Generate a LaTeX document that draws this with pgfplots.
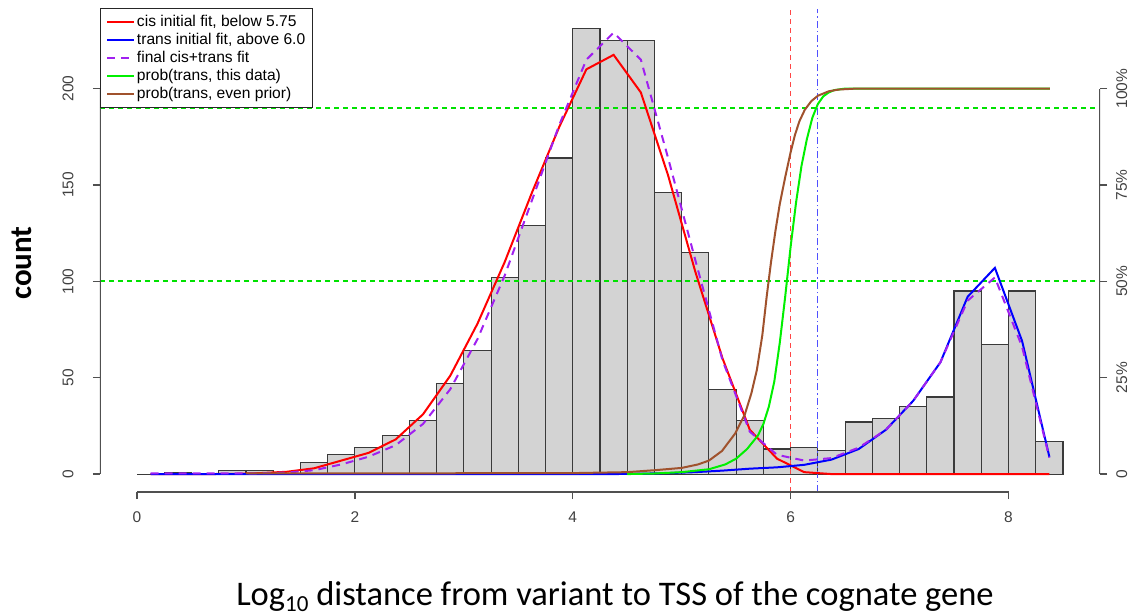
\documentclass[border=0pt]{standalone}
\usepackage{fontspec}
\setmainfont{Liberation Sans}
\newfontfamily\carlito{Carlito}
\usepackage{pgfplots}
\pgfplotsset{compat=1.18}
\definecolor{histfill}{HTML}{D3D3D3}
\definecolor{histedge}{HTML}{3A3A3A}
\definecolor{rpurple}{HTML}{A020F0}
\definecolor{rgreen}{HTML}{00F000}
\definecolor{rsienna}{HTML}{A0522D}
\definecolor{axgray}{HTML}{505050}
\definecolor{hlgreen}{RGB}{0,225,0}
\definecolor{vlred}{RGB}{255,70,70}
\definecolor{vlblue}{RGB}{80,80,255}

\pgfplotstableread{
x y
0.00 0
0.25 1
0.50 0
0.75 2
1.00 2
1.25 0
1.50 6
1.75 10
2.00 14
2.25 20
2.50 28
2.75 47
3.00 64
3.25 102
3.50 129
3.75 164
4.00 231
4.25 225
4.50 225
4.75 146
5.00 115
5.25 44
5.50 28
5.75 13
6.00 14
6.25 12
6.50 27
6.75 29
7.00 35
7.25 40
7.50 95
7.75 67
8.00 95
8.25 17
8.50 0
}\histdata

\pgfplotstableread{
x cis trans final
0.125 0 0 0.3
0.375 0 0 0.3
0.625 0 0 0.3
0.875 0.1 0 0.3
1.125 0.5 0 0.4
1.375 1.2 0 0.8
1.625 3 0 2
1.875 7 0 5
2.125 11 0 9
2.375 18 0 15
2.625 31 0 26
2.875 51 0 44
3.125 78 0 70
3.375 110 0 103
3.625 146 0 142
3.875 180 0 181
4.125 210 0 215
4.375 217.5 0 229
4.625 198 0.2 215
4.875 155 0.5 164
5.125 105 1 111
5.375 60 1.8 59
5.625 23 2.8 22
5.875 8 3.5 10
6.125 1 4.8 7
6.375 0 7.5 8.3
6.625 0 13 13.7
6.875 0 23 23
7.125 0 38 38
7.375 0 58 58
7.625 0 92 90
7.875 0 107 102
8.125 0 69 66
8.375 0 9 8.5
}\fitdata

\pgfplotstableread{
x p
4.50 0
4.75 0.3
5.00 1
5.25 2.5
5.40 5
5.50 8
5.60 13
5.70 20
5.75 26
5.80 35
5.85 48
5.90 68
5.95 92
6.00 118
6.05 141
6.10 160
6.15 174
6.20 185
6.25 192
6.30 196
6.35 198
6.40 199.2
6.50 200
8.38 200
}\probdata

\pgfplotstableread{
x p
1.00 0.3
4.00 0.5
4.50 1
4.75 2
5.00 3.2
5.15 5
5.25 7
5.37 12
5.49 21
5.58 31
5.64 42
5.69 54
5.74 72
5.78 92
5.82 110
5.86 126
5.90 140
5.95 154
6.00 167
6.04 176
6.08 183
6.13 189
6.19 193.5
6.25 196.3
6.35 198.6
6.44 199.5
6.60 200
8.38 200
}\evendata

\begin{document}
\begin{tikzpicture}
\path[use as bounding box] (-100pt,-124pt) rectangle (1036pt,492pt);
\begin{axis}[
  scale only axis, width=1000pt, height=483pt,
  xmin=-0.34, xmax=8.84, ymin=-9.3, ymax=241.3,
  axis lines=left, axis line style={draw=none},
  tick align=outside, major tick length=7pt,
  tick style={axgray, line width=1.2pt},
  xtick={0,2,4,6,8}, ytick={0,50,100,150,200},
  /pgf/number format/assume math mode=true,
  ticklabel style={font=\fontsize{15.5}{15.5}\selectfont, text=black!75},
  xticklabel shift=9pt,
  yticklabel style={xshift=-16pt, rotate=90, anchor=south},
  xlabel={\carlito Log\raisebox{-0.35ex}{\fontsize{23}{23}\selectfont 10} distance from variant to TSS of the cognate gene},
  xlabel style={at={(axis description cs:0.515,-0.217)}, anchor=center, font=\fontsize{34.5}{34.5}\selectfont},
  ylabel={\carlito\bfseries count},
  ylabel style={at={(axis description cs:-0.078,0.474)}, anchor=center, rotate=0, font=\fontsize{31}{31}\selectfont},
  legend style={at={(axis description cs:0,1.002)}, anchor=north west, draw=black!85, line width=1pt,
    font=\fontsize{15.6}{17}\selectfont, inner xsep=6pt, inner ysep=4.5pt,
    nodes={inner sep=1.5pt, text height=11.5pt, text depth=3.5pt}, row sep=0pt},
  legend cell align=left,
  legend image code/.code={\draw[#1] (0pt,0pt) -- (27pt,0pt);},
]
\addplot[ybar interval, fill=histfill, draw=histedge, line width=1.1pt, forget plot] table[x=x,y=y] {\histdata};

\addplot[draw=hlgreen, line width=1.8pt, dash pattern=on 5pt off 4pt, forget plot] coordinates {(-0.34,100) (8.84,100)};
\addplot[draw=hlgreen, line width=1.8pt, dash pattern=on 5pt off 4pt, forget plot] coordinates {(-0.34,190) (8.84,190)};
\addplot[draw=vlred, line width=1.3pt, dash pattern=on 5pt off 4pt, forget plot] coordinates {(6,-9.3) (6,241.3)};
\addplot[draw=vlblue, line width=1.2pt, dash pattern=on 7pt off 3pt on 1.5pt off 3pt, forget plot] coordinates {(6.25,-9.3) (6.25,241.3)};

\addplot[color=red, line width=2pt] table[x=x,y=cis] {\fitdata};
\addlegendentry{cis initial fit, below 5.75}
\addplot[color=blue, line width=2pt] table[x=x,y=trans] {\fitdata};
\addlegendentry{trans initial fit, above 6.0}
\addplot[color=rpurple, line width=2pt, dash pattern=on 8pt off 6pt] table[x=x,y=final] {\fitdata};
\addlegendentry{final cis+trans fit}
\addplot[color=rgreen, line width=2pt] table[x=x,y=p] {\probdata};
\addlegendentry{prob(trans, this data)}
\addplot[color=rsienna, line width=2pt] table[x=x,y=p] {\evendata};
\addlegendentry{prob(trans, even prior)}

\draw[axgray, line width=1.2pt] (axis cs:0,-9.3) -- (axis cs:8,-9.3);
\draw[axgray, line width=1.2pt] (axis cs:-0.34,0) -- (axis cs:-0.34,200);
\draw[axgray, line width=1.2pt] (axis cs:8.84,0) -- (axis cs:8.84,200);
\end{axis}
\begin{axis}[
  scale only axis, width=1000pt, height=483pt,
  xmin=-0.34, xmax=8.84, ymin=-9.3, ymax=241.3,
  axis x line=none, axis y line*=right, axis line style={draw=none},
  tick align=outside, major tick length=7pt,
  tick style={axgray, line width=1.2pt},
  ytick={0,50,100,150,200}, yticklabels={0,25\%,50\%,75\%,100\%},
  ticklabel style={font=\fontsize{15.5}{15.5}\selectfont, text=black!75},
  yticklabel style={xshift=8pt, rotate=90, anchor=north, inner sep=1pt},
]
\end{axis}
\end{tikzpicture}
\end{document}
